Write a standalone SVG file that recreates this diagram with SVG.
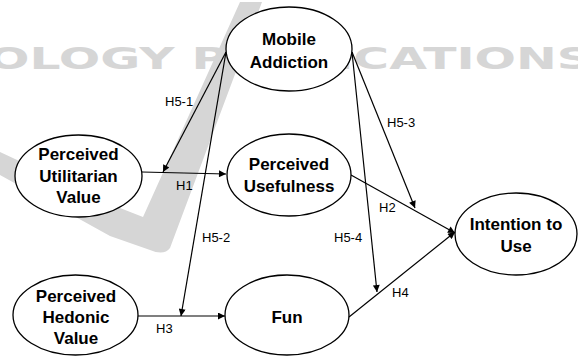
<svg xmlns="http://www.w3.org/2000/svg" width="578" height="356" viewBox="0 0 578 356">
<style>
.node ellipse{fill:#fff;stroke:#000;stroke-width:1.3}
.nt{font-family:"Liberation Sans",Arial,sans-serif;font-weight:bold;font-size:17px;fill:#000;text-anchor:middle}
.lbl{font-family:"Liberation Sans",Arial,sans-serif;font-size:13px;fill:#000}
.edge{stroke:#000;stroke-width:1.2;fill:none;marker-end:url(#ah)}
.wm{fill:#d6d6d6}
</style>
<defs>
<marker id="ah" viewBox="0 0 10 10" refX="10" refY="5" markerWidth="9" markerHeight="7" markerUnits="userSpaceOnUse" orient="auto">
<path d="M0,0 L10,5 L0,10 z" fill="#000"/>
</marker>
</defs>
<rect width="578" height="356" fill="#fff"/>
<g id="watermark">
<path class="wm" d="M240,2 L262,2 L170,248 Q164,256 150,250 L110,236 L0,175 L0,152 L120,208 L143,217 Z"/>
<text x="-12" y="69" font-family="DejaVu Sans, sans-serif" font-weight="bold" font-size="31" fill="#d6d6d6" textLength="604" lengthAdjust="spacingAndGlyphs">OLOGY PUBLICATIONS</text>
</g>
<g id="connectors">
<line class="edge" x1="142" y1="172" x2="226" y2="174"/>
<line class="edge" x1="226" y1="52" x2="163" y2="172"/>
<line class="edge" x1="226" y1="52" x2="181" y2="316"/>
<line class="edge" x1="138" y1="316" x2="225" y2="316"/>
<line class="edge" x1="351" y1="175" x2="455" y2="233"/>
<line class="edge" x1="349" y1="317" x2="455" y2="232"/>
<line class="edge" x1="352" y1="52" x2="415" y2="208"/>
<line class="edge" x1="352" y1="52" x2="377" y2="292"/>
<text class="lbl" x="165" y="106">H5-1</text>
<text class="lbl" x="176" y="190">H1</text>
<text class="lbl" x="202" y="242">H5-2</text>
<text class="lbl" x="156" y="333">H3</text>
<text class="lbl" x="387" y="127">H5-3</text>
<text class="lbl" x="379" y="212">H2</text>
<text class="lbl" x="334" y="242">H5-4</text>
<text class="lbl" x="392" y="297">H4</text>
</g>
<g id="mobile-addiction" class="node">
<ellipse cx="289" cy="49" rx="63" ry="42"/>
<text class="nt" x="289" y="45">Mobile</text>
<text class="nt" x="289" y="68">Addiction</text>
</g>
<g id="perceived-utilitarian-value" class="node">
<ellipse cx="78.5" cy="176" rx="63.5" ry="41"/>
<text class="nt" x="78.5" y="160">Perceived</text>
<text class="nt" x="78.5" y="182">Utilitarian</text>
<text class="nt" x="78.5" y="203">Value</text>
</g>
<g id="perceived-usefulness" class="node">
<ellipse cx="289" cy="175" rx="62" ry="41"/>
<text class="nt" x="289" y="170">Perceived</text>
<text class="nt" x="289" y="192">Usefulness</text>
</g>
<g id="intention-to-use" class="node">
<ellipse cx="516" cy="234" rx="61" ry="41"/>
<text class="nt" x="516" y="230">Intention to</text>
<text class="nt" x="516" y="252">Use</text>
</g>
<g id="perceived-hedonic-value" class="node">
<ellipse cx="75.5" cy="315" rx="62.5" ry="40"/>
<text class="nt" x="76" y="302">Perceived</text>
<text class="nt" x="76" y="323">Hedonic</text>
<text class="nt" x="76" y="344">Value</text>
</g>
<g id="fun" class="node">
<ellipse cx="287" cy="315" rx="62" ry="40"/>
<text class="nt" x="287" y="323">Fun</text>
</g>
</svg>
